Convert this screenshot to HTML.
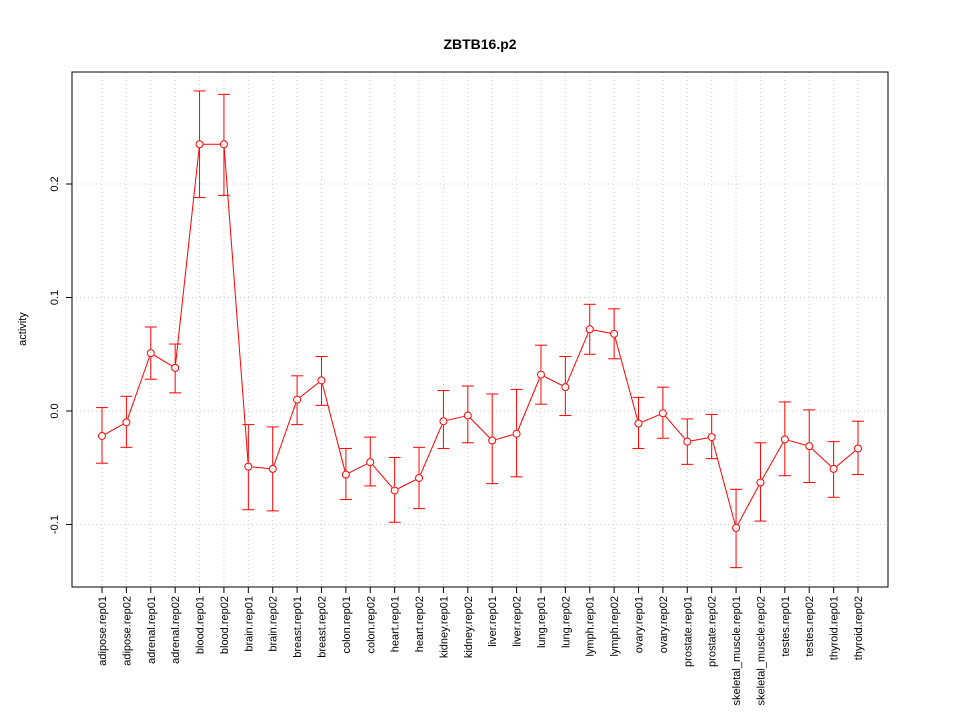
<!DOCTYPE html>
<html><head><meta charset="utf-8"><style>
html,body{margin:0;padding:0;background:#fff;}
svg{display:block;font-family:"Liberation Sans",Arial,sans-serif;}
</style></head><body>
<svg id="chart" width="960" height="720"></svg>
<script>
const categories=["adipose.rep01","adipose.rep02","adrenal.rep01","adrenal.rep02","blood.rep01","blood.rep02","brain.rep01","brain.rep02","breast.rep01","breast.rep02","colon.rep01","colon.rep02","heart.rep01","heart.rep02","kidney.rep01","kidney.rep02","liver.rep01","liver.rep02","lung.rep01","lung.rep02","lymph.rep01","lymph.rep02","ovary.rep01","ovary.rep02","prostate.rep01","prostate.rep02","skeletal_muscle.rep01","skeletal_muscle.rep02","testes.rep01","testes.rep02","thyroid.rep01","thyroid.rep02"];
const values=[-0.022,-0.010,0.051,0.038,0.235,0.235,-0.049,-0.051,0.010,0.027,-0.056,-0.045,-0.070,-0.059,-0.009,-0.004,-0.026,-0.020,0.032,0.021,0.072,0.068,-0.011,-0.002,-0.027,-0.023,-0.103,-0.063,-0.025,-0.031,-0.051,-0.033];
const upper=[0.003,0.013,0.074,0.059,0.282,0.279,-0.012,-0.014,0.031,0.048,-0.033,-0.023,-0.041,-0.032,0.018,0.022,0.015,0.019,0.058,0.048,0.094,0.090,0.012,0.021,-0.007,-0.003,-0.069,-0.028,0.008,0.001,-0.027,-0.009];
const lower=[-0.046,-0.032,0.028,0.016,0.188,0.190,-0.087,-0.088,-0.012,0.005,-0.078,-0.066,-0.098,-0.086,-0.033,-0.028,-0.064,-0.058,0.006,-0.004,0.050,0.046,-0.033,-0.024,-0.047,-0.042,-0.138,-0.097,-0.057,-0.063,-0.076,-0.056];
const yTicks=[-0.1,0.0,0.1,0.2];
const yTickLabels=["-0.1","0.0","0.1","0.2"];

const svg=document.getElementById('chart');
const NS="http://www.w3.org/2000/svg";
const L=72,R=888,T=72,B=587;
const xs=i=>102+i*(858-102)/(categories.length-1);
const ys=v=>411-v*1135;
function mk(tag,attrs,parent){const e=document.createElementNS(NS,tag);for(const k in attrs)e.setAttribute(k,attrs[k]);(parent||svg).appendChild(e);return e;}

// grid
const grid=mk('g',{});


categories.forEach((c,i)=>{mk('line',{x1:xs(i),x2:xs(i),y1:T,y2:B,stroke:'#ccc','stroke-dasharray':'1,3'},grid);});
yTicks.forEach(v=>{mk('line',{x1:L,x2:R,y1:ys(v),y2:ys(v),stroke:'#ccc','stroke-dasharray':'1,3'},grid);});

// frame
const frame=mk('rect',{x:L,y:T,width:R-L,height:B-T,fill:'none',stroke:'#000'});



// y axis
const yax=mk('g',{});


yTicks.forEach((v,i)=>{
  mk('line',{x1:L-6,x2:L,y1:ys(v),y2:ys(v),stroke:'#000'},yax);
  const t=mk('text',{x:L-14,y:ys(v),'font-size':11,'text-anchor':'middle',transform:`rotate(-90 ${L-14} ${ys(v)})`},yax);
  t.textContent=yTickLabels[i];
});
const yt=mk('text',{x:26,y:329,'font-size':11,'text-anchor':'middle',transform:'rotate(-90 26 329)'});
yt.textContent='activity';



// x axis
const xax=mk('g',{});


mk('line',{x1:xs(0),x2:xs(categories.length-1),y1:B,y2:B,stroke:'#000'},xax);
categories.forEach((c,i)=>{
  const x=xs(i);
  mk('line',{x1:x,x2:x,y1:B,y2:B+6,stroke:'#000'},xax);
  const t=mk('text',{x:x+4,y:596,'font-size':11,'text-anchor':'end',transform:`rotate(-90 ${x+4} 596)`},xax);
  t.textContent=c;
});

// title
const title=mk('text',{x:480,y:49,'font-size':14,'font-weight':'bold','text-anchor':'middle'});
title.textContent='ZBTB16.p2';



// series
const ser=mk('g',{});


categories.forEach((c,i)=>{
  const x=xs(i);
  const eb=mk('g',{},ser);
  
  
  mk('line',{x1:x,x2:x,y1:ys(upper[i]),y2:ys(values[i])-4,stroke:'#f00'},eb);
  mk('line',{x1:x,x2:x,y1:ys(values[i])+4,y2:ys(lower[i]),stroke:'#f00'},eb);
  mk('line',{x1:x-6,x2:x+6,y1:ys(upper[i]),y2:ys(upper[i]),stroke:'#f00'},eb);
  mk('line',{x1:x-6,x2:x+6,y1:ys(lower[i]),y2:ys(lower[i]),stroke:'#f00'},eb);
});
for(let i=0;i<categories.length-1;i++){
  const x1=xs(i),y1=ys(values[i]),x2=xs(i+1),y2=ys(values[i+1]);
  const dx=x2-x1,dy=y2-y1,d=Math.hypot(dx,dy),r=4;
  if(d>2*r){const seg=mk('line',{x1:x1+dx*r/d,y1:y1+dy*r/d,x2:x2-dx*r/d,y2:y2-dy*r/d,stroke:'#f00'},ser);
  
  }
}
categories.forEach((c,i)=>{
  const p=mk('circle',{cx:xs(i),cy:ys(values[i]),r:3.5,fill:'none',stroke:'#f00'},ser);
  
  
});
</script>
</body></html>
